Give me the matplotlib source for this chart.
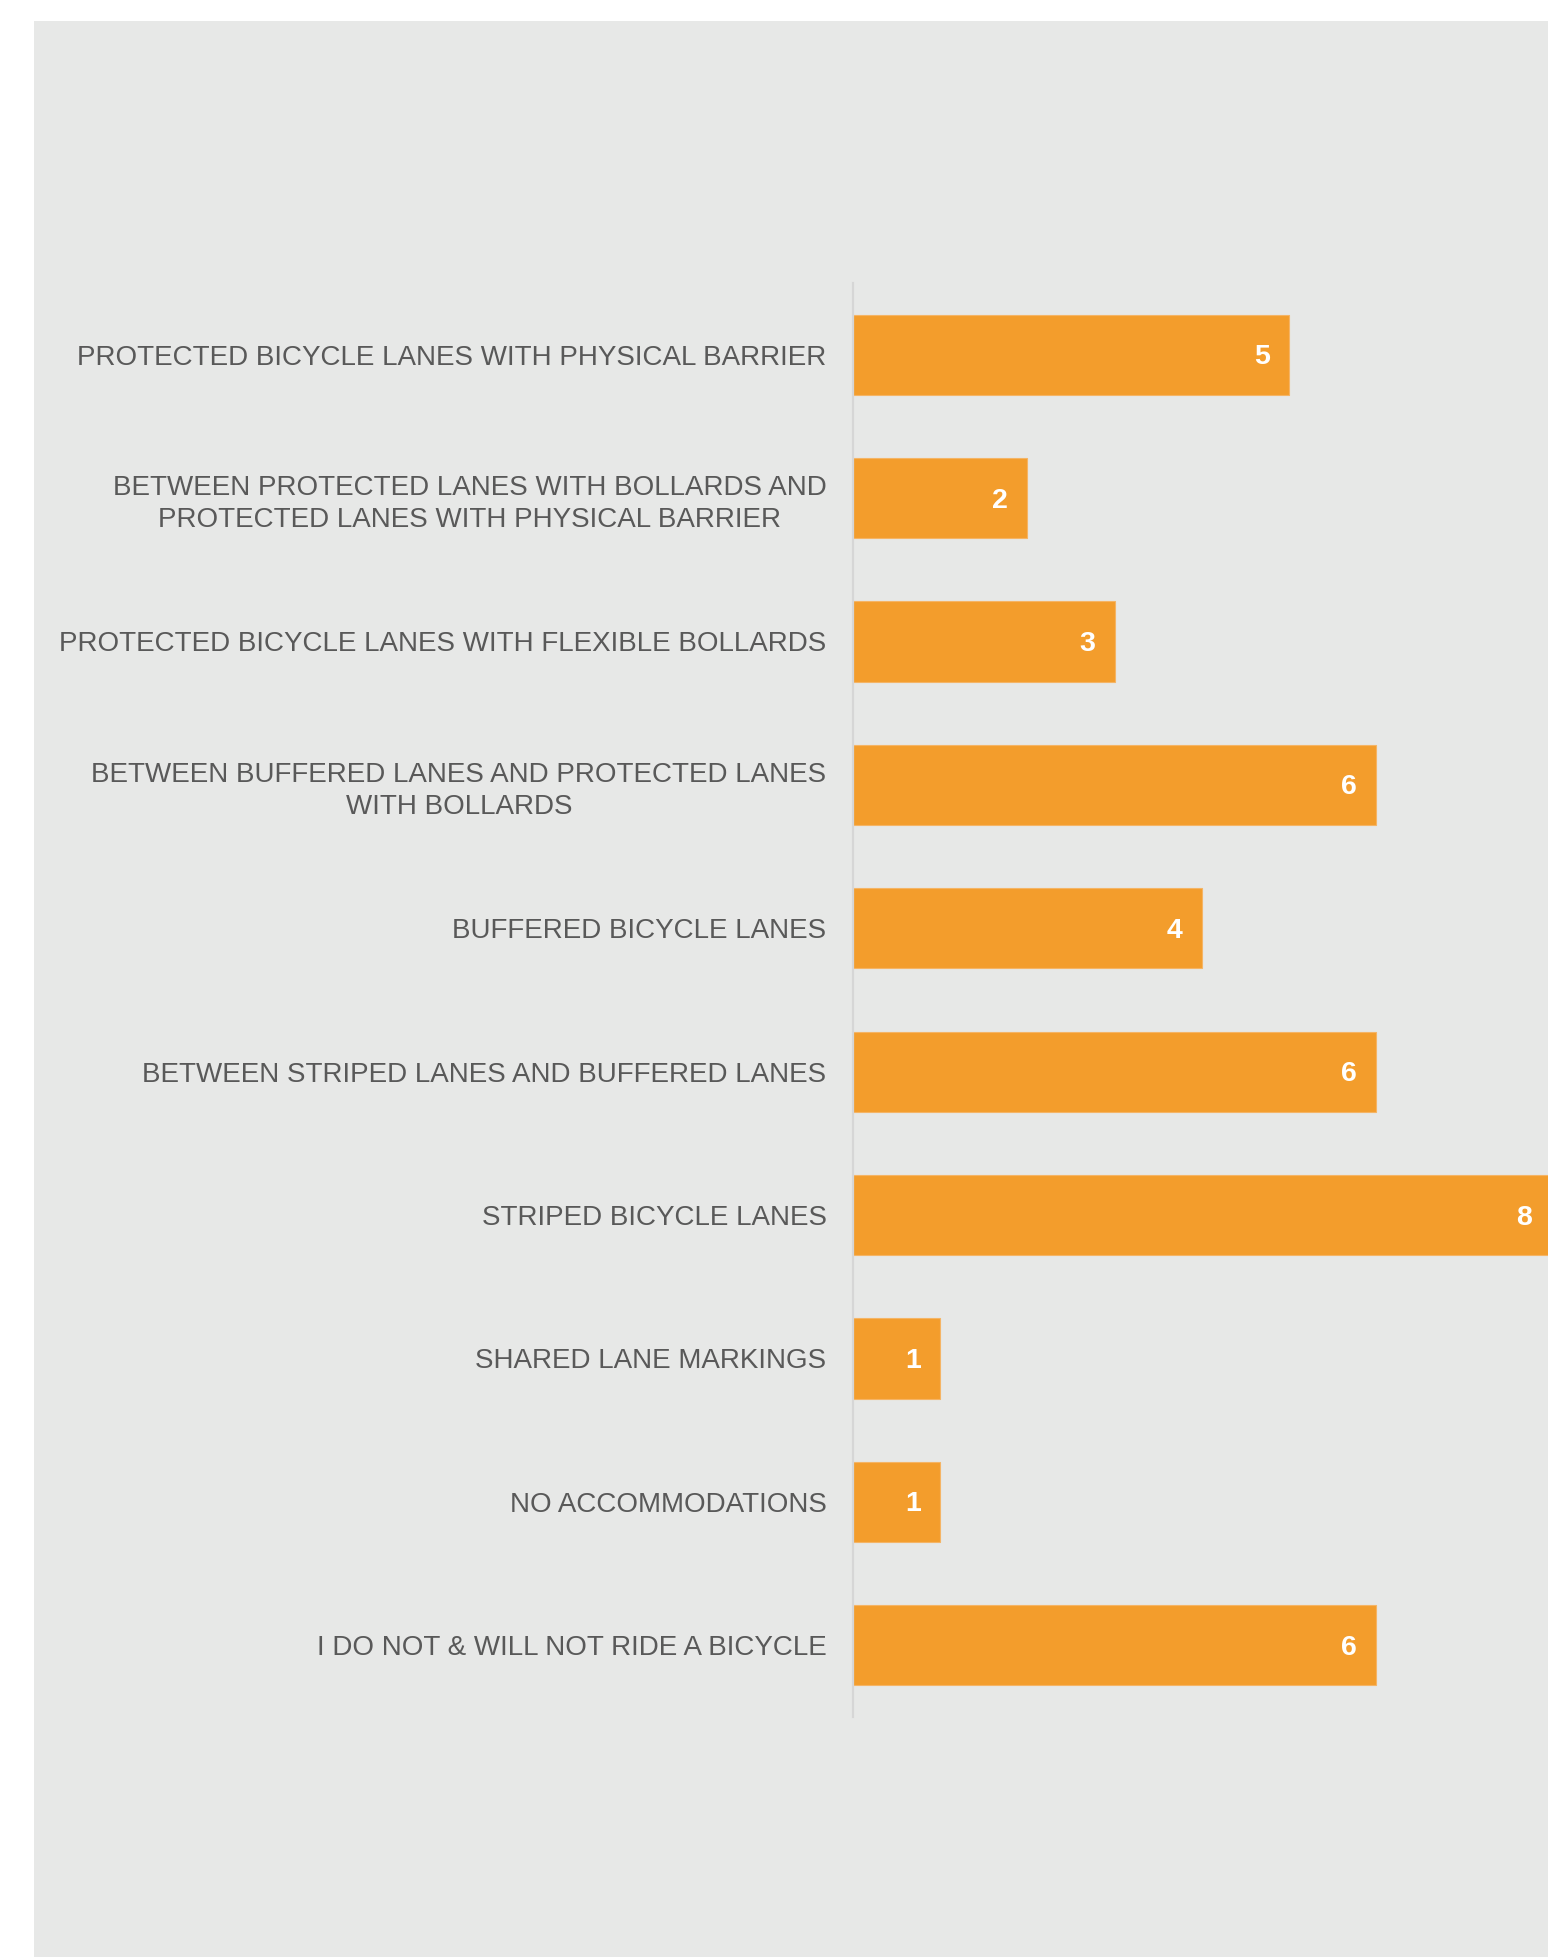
import matplotlib
matplotlib.use("Agg")
import matplotlib.pyplot as plt
from matplotlib.patches import Rectangle

# categories, top to bottom
categories = [
    "PROTECTED BICYCLE LANES WITH PHYSICAL BARRIER",
    "BETWEEN PROTECTED LANES WITH BOLLARDS AND\nPROTECTED LANES WITH PHYSICAL BARRIER",
    "PROTECTED BICYCLE LANES WITH FLEXIBLE BOLLARDS",
    "BETWEEN BUFFERED LANES AND PROTECTED LANES\nWITH BOLLARDS",
    "BUFFERED BICYCLE LANES",
    "BETWEEN STRIPED LANES AND BUFFERED LANES",
    "STRIPED BICYCLE LANES",
    "SHARED LANE MARKINGS",
    "NO ACCOMMODATIONS",
    "I DO NOT & WILL NOT RIDE A BICYCLE",
]
counts = [5, 2, 3, 6, 4, 6, 8, 1, 1, 6]

bar_color = "#F39D2C"
panel_color = "#E7E8E7"
text_color = "#595959"

W, H = 1548, 1957
fig = plt.figure(figsize=(W / 100, H / 100), dpi=100)
fig.patch.set_facecolor("white")

# gray panel behind the chart
fig.patches.append(Rectangle((34 / W, 0), 1 - 34 / W, 1 - 21 / H,
                             transform=fig.transFigure, facecolor=panel_color,
                             edgecolor="none", zorder=-5))

ax = fig.add_axes([853 / W, 1 - 1717 / H, 1 - 853 / W, (1717 - 283) / H])
ax.set_facecolor("none")

y = list(range(len(categories)))
ax.barh(y, counts, height=0.56, color=bar_color, edgecolor="#F5B465",
        linewidth=0.8, zorder=2)

for yi, v in zip(y, counts):
    ax.text(v - 0.31, yi + 0.017, str(v), ha="center", va="center", color="white",
            fontsize=20.5, fontweight="bold", family="Liberation Sans", zorder=3)

ax.set_xlim(0, 7.97)
ax.set_ylim(len(categories) - 0.5, -0.5)
ax.set_yticks(y)
ax.set_yticklabels(categories, fontsize=20, color=text_color,
                   family="Liberation Sans", multialignment="center",
                   linespacing=1.3)
ax.tick_params(axis="y", length=0, pad=19)
ax.set_xticks([])
for s in ["top", "right", "bottom"]:
    ax.spines[s].set_visible(False)
ax.spines["left"].set_color("#D6D6D6")
ax.spines["left"].set_linewidth(1.6)

fig.savefig("out.png", dpi=100)
